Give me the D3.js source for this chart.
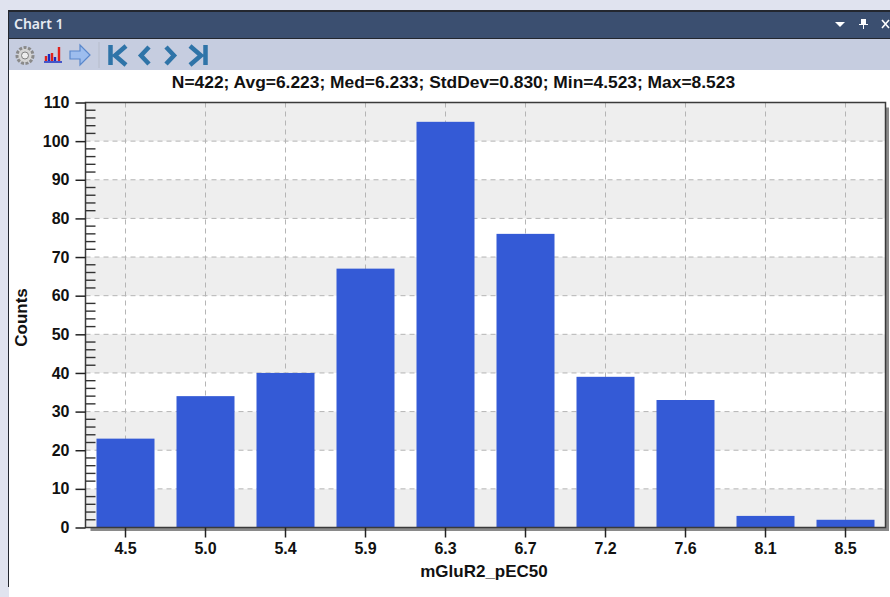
<!DOCTYPE html>
<html>
<head>
<meta charset="utf-8">
<script src="https://cdn.jsdelivr.net/npm/d3@7"></script>
<style>
html, body { margin: 0; padding: 0; background: #fff; overflow: hidden; }
text { font-family: "Liberation Sans", Arial, sans-serif; font-weight: bold; fill: #111; }
</style>
</head>
<body>
<svg id="chart" width="890" height="597"></svg>
<script>
var categories = ["4.5", "5.0", "5.4", "5.9", "6.3", "6.7", "7.2", "7.6", "8.1", "8.5"];
var counts = [23, 34, 40, 67, 105, 76, 39, 33, 3, 2];
var yTicks = [0, 10, 20, 30, 40, 50, 60, 70, 80, 90, 100, 110];
var yMinorTicks = d3.range(0, 110, 2);
var statsLine = "N=422; Avg=6.223; Med=6.233; StdDev=0.830; Min=4.523; Max=8.523";

var margin = {left: 85.5, right: 885.5, top: 102.5, bottom: 527.5};

var svg = d3.select("#chart");

//// window frame
svg.append("rect").attr("width", 890).attr("height", 597).attr("fill", "#e0e3ef");
svg.append("rect").attr("x", 8).attr("y", 10).attr("width", 882).attr("height", 577).attr("fill", "#23272f");
svg.append("rect").attr("x", 9).attr("y", 12).attr("width", 881).attr("height", 26).attr("fill", "#3b4f70");
svg.append("rect").attr("x", 9).attr("y", 39).attr("width", 881).attr("height", 31).attr("fill", "#c6cde0");
svg.append("rect").attr("x", 9).attr("y", 70).attr("width", 881).attr("height", 527).attr("fill", "#fff");

svg.append("text").attr("x", 14).attr("y", 29)
  .style("font-family", "'Noto Sans', sans-serif").style("font-size", "14px").style("font-weight", "600")
  .style("fill", "#e6eaf2").text("Chart 1");

// title bar buttons
svg.append("path").attr("d", "M835 22h10l-5 5z").attr("fill", "#fff");
svg.append("path").attr("d", "M861 19h5v5h2v1h-4v4h-1v-4h-4v-1h2z").attr("fill", "#fff");
svg.append("path").attr("d", "M882 20l7 8M889 20l-7 8").attr("stroke", "#fff").attr("stroke-width", 1.6);

// toolbar icons
var toolbar = svg.append("g");
toolbar.append("circle").attr("cx", 25).attr("cy", 55.5).attr("r", 8).attr("fill", "#d4d4d4").attr("stroke", "#8a8a8a").attr("stroke-width", 3).attr("stroke-dasharray", "3 1.5");
toolbar.append("circle").attr("cx", 25).attr("cy", 55.5).attr("r", 3.5).attr("fill", "#ececec").attr("stroke", "#808080");
toolbar.append("path").attr("d", "M44 62h18").attr("stroke", "#1a2cc0").attr("stroke-width", 1.5);
toolbar.append("path").attr("d", "M46 61v-5M52 61v-8M59 61v-14").attr("stroke", "#e0201c").attr("stroke-width", 2.4);
toolbar.append("path").attr("d", "M49 61v-7M55 61v-4").attr("stroke", "#1a2cc0").attr("stroke-width", 2.4);
toolbar.append("path").attr("d", "M70 51h10v-6l10 10-10 10v-6h-10z").attr("fill", "#9dbdee").attr("stroke", "#5a88cc").attr("stroke-width", 1.2);
toolbar.append("path").attr("d", "M99 42v26").attr("stroke", "#b6bccb");
var navColor = "#2f74a8";
toolbar.append("path").attr("d", "M110.5 45v20M126 46l-11 9.5 11 9.5").attr("fill", "none").attr("stroke", navColor).attr("stroke-width", 4.5);
toolbar.append("path").attr("d", "M149 47l-8 8.5 8 8.5").attr("fill", "none").attr("stroke", navColor).attr("stroke-width", 4.5);
toolbar.append("path").attr("d", "M166 47l8 8.5-8 8.5").attr("fill", "none").attr("stroke", navColor).attr("stroke-width", 4.5);
toolbar.append("path").attr("d", "M205.5 45v20M190 46l11 9.5-11 9.5").attr("fill", "none").attr("stroke", navColor).attr("stroke-width", 4.5);

//// scales
var x = d3.scaleBand().domain(categories).range([margin.left, margin.right]).paddingInner(0.275).paddingOuter(0.1375);
var y = d3.scaleLinear().domain([0, 110]).range([margin.bottom, margin.top]);

//// plot background, alternating bands
var plot = svg.append("g");
plot.selectAll(".band").data(yTicks.slice(0, -1).filter(function(d) { return d % 20 === 0; }))
  .enter().append("rect")
  .attr("class", "band")
  .attr("x", margin.left)
  .attr("width", margin.right - margin.left)
  .attr("y", function(d) { return y(d + 10); })
  .attr("height", function(d) { return y(d) - y(d + 10); })
  .attr("fill", "#eeeeee");

// shadow on the right and under the plot
svg.append("path")
  .attr("d", d3.line()([[margin.right + 2, margin.top + 5], [margin.right + 2, margin.bottom + 2], [margin.left + 5, margin.bottom + 2]]))
  .attr("fill", "none").attr("stroke", "#8a8a8a").attr("stroke-width", 3);

//// grid
var gridColor = "#b5b5b5";
plot.selectAll(".hgrid").data(yTicks.slice(1, -1))
  .enter().append("line")
  .attr("class", "hgrid")
  .attr("x1", margin.left).attr("x2", margin.right)
  .attr("y1", function(d) { return y(d); }).attr("y2", function(d) { return y(d); })
  .attr("stroke", gridColor).attr("stroke-dasharray", "5 4");
plot.selectAll(".vgrid").data(categories)
  .enter().append("line")
  .attr("class", "vgrid")
  .attr("x1", function(d) { return x(d) + x.bandwidth() / 2; })
  .attr("x2", function(d) { return x(d) + x.bandwidth() / 2; })
  .attr("y1", margin.top).attr("y2", margin.bottom)
  .attr("stroke", gridColor).attr("stroke-dasharray", "5 4");

//// bars
plot.selectAll(".bar").data(counts)
  .enter().append("rect")
  .attr("class", "bar")
  .attr("x", function(d, i) { return x(categories[i]); })
  .attr("width", x.bandwidth())
  .attr("y", function(d) { return y(d); })
  .attr("height", function(d) { return y(0) - y(d); })
  .attr("fill", "#345ad6");

// plot border
svg.append("rect")
  .attr("x", margin.left).attr("y", margin.top)
  .attr("width", margin.right - margin.left).attr("height", margin.bottom - margin.top)
  .attr("fill", "none").attr("stroke", "#3a3a3a").attr("stroke-width", 1.5);

//// axes
var yAxis = svg.append("g").attr("transform", "translate(" + margin.left + ",0)")
  .call(d3.axisLeft(y).tickValues(yTicks).tickSize(10).tickPadding(6));
yAxis.select(".domain").remove();
yAxis.selectAll("line").attr("stroke", "#222").attr("stroke-width", 1.5);
yAxis.selectAll("text").style("font-size", "16px");

svg.append("g").selectAll("line").data(yMinorTicks.filter(function(d) { return d % 10 !== 0; }))
  .enter().append("line")
  .attr("x1", margin.left).attr("x2", margin.left + 10)
  .attr("y1", function(d) { return y(d); }).attr("y2", function(d) { return y(d); })
  .attr("stroke", "#333").attr("stroke-width", 1.4);

var xAxis = svg.append("g").attr("transform", "translate(0," + margin.bottom + ")")
  .call(d3.axisBottom(x).tickSize(10).tickPadding(5));
xAxis.select(".domain").remove();
xAxis.selectAll("line").attr("stroke", "#222").attr("stroke-width", 1.5);
xAxis.selectAll("text").style("font-size", "16px");

//// labels
svg.append("text").attr("x", 453.5).attr("y", 88).attr("text-anchor", "middle")
  .style("font-size", "17.4px").text(statsLine);
svg.append("text").attr("x", 484).attr("y", 577).attr("text-anchor", "middle")
  .style("font-size", "17px").text("mGluR2_pEC50");
svg.append("text").attr("transform", "translate(27,317.5) rotate(-90)").attr("text-anchor", "middle")
  .style("font-size", "17px").text("Counts");
</script>
</body>
</html>
